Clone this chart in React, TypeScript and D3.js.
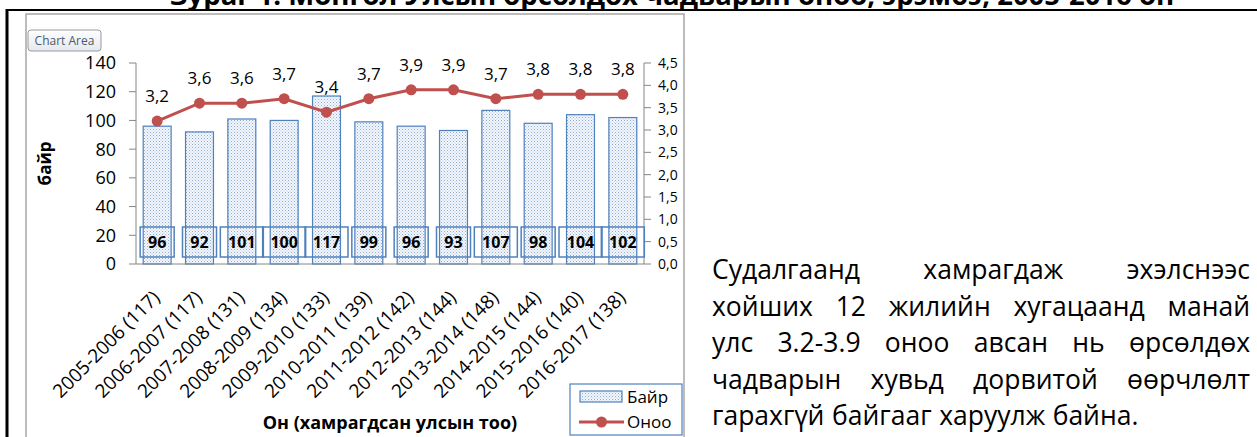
import React, { useEffect, useRef } from "react";
import * as d3 from "d3";

const categories = [
  "2005-2006 (117)",
  "2006-2007 (117)",
  "2007-2008 (131)",
  "2008-2009 (134)",
  "2009-2010 (133)",
  "2010-2011 (139)",
  "2011-2012 (142)",
  "2012-2013 (144)",
  "2013-2014 (148)",
  "2014-2015 (144)",
  "2015-2016 (140)",
  "2016-2017 (138)",
];
const rankValues = [96, 92, 101, 100, 117, 99, 96, 93, 107, 98, 104, 102];
const scoreValues = [3.2, 3.6, 3.6, 3.7, 3.4, 3.7, 3.9, 3.9, 3.7, 3.8, 3.8, 3.8];
const leftTicks = [0, 20, 40, 60, 80, 100, 120, 140];
const rightTicks = [0, 0.5, 1, 1.5, 2, 2.5, 3, 3.5, 4, 4.5];
const seriesNames = ["Байр", "Оноо"];
const yTitle = "байр";
const xTitle = "Он (хамрагдсан улсын тоо)";
const figTitle = "Зураг 1. Монгол Улсын өрсөлдөх чадварын оноо, эрэмбэ, 2005-2016 он";
const paragraphLines = [
  "Судалгаанд хамрагдаж эхэлснээс",
  "хойших 12 жилийн хугацаанд манай",
  "улс 3.2-3.9 оноо авсан нь өрсөлдөх",
  "чадварын хувьд дорвитой өөрчлөлт",
  "гарахгүй байгааг харуулж байна.",
];

const FONT = "'Open Sans', 'Noto Sans', 'Liberation Sans', sans-serif";
const BLUE = "#4F81BD";
const RED = "#C0504D";
const AXIS = "#868686";

const comma = (v: number) => d3.format(".1f")(v).replace(".", ",");

export default function App() {
  const paraRef = useRef<SVGGElement>(null);

  const x = d3.scaleBand<string>().domain(categories).range([136, 644]).paddingInner(0.34).paddingOuter(0.17);
  const yL = d3.scaleLinear().domain([0, 140]).range([264, 63]);
  const yR = d3.scaleLinear().domain([0, 4.5]).range([264, 63]);
  const cx = (c: string) => (x(c) as number) + x.bandwidth() / 2;

  const line = d3
    .line<number>()
    .x((_, i) => cx(categories[i]))
    .y((d) => yR(d));

  useEffect(() => {
    if (!paraRef.current) return;
    const left = 712;
    const right = 1250;
    d3.select(paraRef.current)
      .selectAll<SVGGElement, unknown>("g.pline")
      .each(function (_, li) {
        const words = d3.select(this).selectAll<SVGTextElement, unknown>("text").nodes();
        const widths = words.map((w) => w.getComputedTextLength());
        const total = d3.sum(widths);
        const last = li === paragraphLines.length - 1;
        const spaceW = 7.5;
        const gap = last || words.length < 2 ? spaceW : (right - left - total) / (words.length - 1);
        let pos = left;
        words.forEach((w, i) => {
          w.setAttribute("x", String(pos));
          pos += widths[i] + gap;
        });
      });
  }, []);

  return (
    <svg
      width={1257}
      height={437}
      style={{ position: "absolute", left: 0, top: 0, background: "#fff" }}
      fontFamily={FONT}
    >
      <defs>
        <pattern id="dots" width={3} height={3} patternUnits="userSpaceOnUse">
          <rect width={3} height={3} fill="#f4f7fc" />
          <rect x={0} y={0} width={1} height={1} fill="#8da9d4" />
          <rect x={1.5} y={1.5} width={1} height={1} fill="#a9bfe0" />
        </pattern>
        <linearGradient id="tipGrad" x1="0" y1="0" x2="0" y2="1">
          <stop offset="0" stopColor="#ffffff" />
          <stop offset="1" stopColor="#e4e8ef" />
        </linearGradient>
      </defs>

      {/* figure title (cut at top, as in the source) */}
      <text x={672} y={5} textAnchor="middle" fontSize={27.5} fontWeight="bold" fill="#000">
        {figTitle}
      </text>

      {/* page frame */}
      <line x1={7} y1={10} x2={1257} y2={10} stroke="#000" strokeWidth={2} />
      <line x1={7} y1={9} x2={7} y2={437} stroke="#000" strokeWidth={3} />

      {/* chart area border */}
      <rect x={26} y={14} width={658} height={440} fill="#fff" stroke="#a6a6a6" strokeWidth={1.5} />

      {/* chart area tooltip */}
      <rect x={28} y={30} width={73} height={21} rx={3} fill="url(#tipGrad)" stroke="#9a9a9a" />
      <text x={64.5} y={45} textAnchor="middle" fontSize={12} fill="#4d5a6b">
        Chart Area
      </text>

      {/* bars */}
      {rankValues.map((v, i) => (
        <rect
          key={"b" + i}
          x={x(categories[i])}
          y={yL(v)}
          width={x.bandwidth()}
          height={yL(0) - yL(v)}
          fill="url(#dots)"
          stroke={BLUE}
          strokeWidth={1.2}
        />
      ))}

      {/* left axis */}
      <line x1={136} y1={yL(140)} x2={136} y2={yL(0)} stroke={AXIS} />
      {leftTicks.map((t) => (
        <g key={"lt" + t}>
          <line x1={129} x2={136} y1={yL(t)} y2={yL(t)} stroke={AXIS} />
          <text x={116} y={yL(t)} dy="0.36em" textAnchor="end" fontSize={18} fill="#000">
            {t}
          </text>
        </g>
      ))}

      {/* right axis */}
      <line x1={644} y1={yR(4.5)} x2={644} y2={yR(0)} stroke={AXIS} />
      {rightTicks.map((t) => (
        <g key={"rt" + t}>
          <line x1={644} x2={651} y1={yR(t)} y2={yR(t)} stroke={AXIS} />
          <text x={658} y={yR(t)} dy="0.36em" textAnchor="start" fontSize={14} fill="#000">
            {comma(t)}
          </text>
        </g>
      ))}

      {/* bottom axis */}
      <line x1={136} y1={yL(0)} x2={644} y2={yL(0)} stroke={AXIS} />

      {/* bar data labels */}
      {rankValues.map((v, i) => {
        const w = 16 + 9 * String(v).length;
        const cy = yL(0) - 22;
        return (
          <g key={"bl" + i}>
            <rect x={cx(categories[i]) - w / 2} y={cy - 15} width={w} height={30} fill="none" stroke={BLUE} strokeWidth={1.5} />
            <text x={cx(categories[i])} y={cy} dy="0.36em" textAnchor="middle" fontSize={16} fontWeight="bold" fill="#000">
              {v}
            </text>
          </g>
        );
      })}

      {/* score line */}
      <path d={line(scoreValues) as string} fill="none" stroke={RED} strokeWidth={3} />
      {scoreValues.map((v, i) => (
        <circle key={"c" + i} cx={cx(categories[i])} cy={yR(v)} r={5.5} fill={RED} />
      ))}
      {scoreValues.map((v, i) => (
        <text key={"sl" + i} x={cx(categories[i])} y={yR(v) - 19} textAnchor="middle" fontSize={17} fill="#000">
          {comma(v)}
        </text>
      ))}

      {/* x tick labels */}
      {categories.map((c) => (
        <text
          key={"xl" + c}
          transform={`translate(${cx(c) - 1},${yL(0) + 30}) rotate(-45)`}
          textAnchor="end"
          dy="0.36em"
          fontSize={19}
          fill="#000"
        >
          {c}
        </text>
      ))}

      {/* axis titles */}
      <text transform={`translate(51,${(yL(0) + yL(140)) / 2}) rotate(-90)`} textAnchor="middle" fontSize={17} fontWeight="bold">
        {yTitle}
      </text>
      <text x={390} y={429} textAnchor="middle" fontSize={18} fontWeight="bold">
        {xTitle}
      </text>

      {/* legend */}
      <rect x={570} y={384} width={112} height={51} fill="#fff" stroke={BLUE} strokeWidth={1.2} />
      <rect x={580} y={391} width={42} height={11} fill="url(#dots)" stroke={BLUE} strokeWidth={1.2} />
      <text x={627} y={397} dy="0.36em" fontSize={17}>
        {seriesNames[0]}
      </text>
      <line x1={579} x2={624} y1={422} y2={422} stroke={RED} strokeWidth={3} />
      <circle cx={601.5} cy={422} r={5.5} fill={RED} />
      <text x={627} y={422} dy="0.36em" fontSize={17}>
        {seriesNames[1]}
      </text>

      {/* paragraph */}
      <g ref={paraRef} fontSize={26.5} fill="#000">
        {paragraphLines.map((ln, li) => (
          <g className="pline" key={"p" + li}>
            {ln.split(" ").map((w, wi) => (
              <text key={wi} x={712} y={279 + li * 36.5}>
                {w}
              </text>
            ))}
          </g>
        ))}
      </g>
    </svg>
  );
}
